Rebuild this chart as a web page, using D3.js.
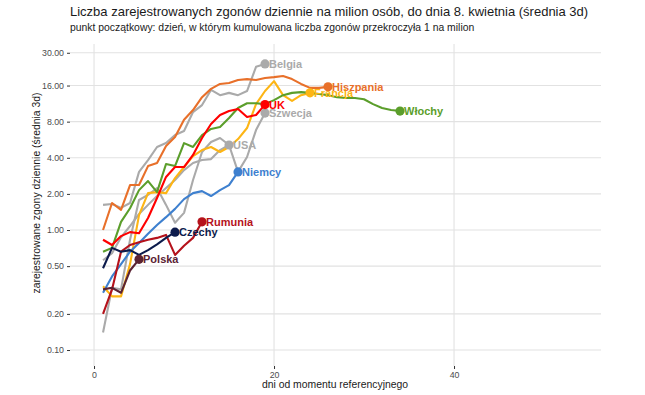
<!DOCTYPE html>
<html>
<head>
<meta charset="utf-8">
<script src="https://cdn.jsdelivr.net/npm/d3@7"></script>
<style>
  body { margin: 0; background: #fff; font-family: "Liberation Sans", Arial, sans-serif; }
</style>
</head>
<body>
<div id="main"></div>
<script>
// daily deaths per million (3-day mean), day 1 = first day above 1 death per million cumulative
const countries = ['Belgia', 'Szwecja', 'USA', 'Hiszpania', 'Francja', 'Włochy', 'UK', 'Niemcy', 'Rumunia', 'Czechy', 'Polska'];
const colors = ['#aaaaaa', '#aaaaaa', '#aaaaaa', '#e8702a', '#fdb515', '#5b9e2b', '#ff0000', '#3e80cf', '#b5121b', '#0d1b4c', '#5b2333'];

const belgia = [1.62, 1.65, 1.53, 1.68, 3.05, 3.83, 4.92, 5.31, 6.19, 6.69, 9.62, 11.0, 14.7, 13.3, 13.9, 13.3, 14.4, 22.9, 24.2];
const szwecja = [0.14, 0.33, 0.32, 0.83, 1.78, 1.96, 2.24, 1.62, 1.15, 1.39, 2.61, 4.47, 5.41, 5.85, 5.11, 3.05, 4.06, 6.81, 9.44];
const usa = [0.56, 0.64, 0.87, 1.08, 1.36, 1.62, 1.92, 2.24, 2.61, 3.16, 3.62, 3.83, 3.90, 4.64, 5.11];
const hiszpania = [1.0, 1.68, 1.47, 2.37, 2.37, 3.41, 3.62, 5.01, 5.96, 8.3, 10.0, 12.8, 15.0, 16.5, 16.8, 17.8, 18.1, 17.8, 18.5, 18.8, 19.2, 18.1, 16.5, 15.3, 15.3, 15.6];
const francja = [0.34, 0.28, 0.28, 0.52, 1.33, 2.03, 2.07, 2.03, 2.71, 3.35, 4.13, 4.64, 4.92, 4.47, 4.92, 5.73, 7.08, 11.2, 14.4, 17.4, 13.3, 11.9, 13.3, 13.9];
const wlochy = [0.66, 0.71, 1.17, 1.52, 2.15, 2.56, 2.07, 3.55, 3.41, 5.3, 4.92, 6.19, 6.95, 7.21, 8.58, 10.4, 11.4, 11.4, 11.2, 12.1, 13.3, 13.9, 14.1, 13.9, 13.6, 13.3, 12.8, 12.6, 12.6, 12.3, 11.2, 10.4, 10.0, 9.81];
const uk = [0.83, 0.75, 0.89, 0.96, 0.94, 1.26, 1.85, 2.77, 3.35, 3.35, 4.22, 5.85, 7.65, 9.09, 9.81, 10.2, 8.75, 9.09, 11.1];
const niemcy = [0.30, 0.41, 0.52, 0.66, 0.78, 0.93, 1.10, 1.28, 1.50, 1.81, 2.03, 2.11, 1.92, 2.15, 2.37, 3.05];
const rumunia = [0.20, 0.32, 0.66, 0.75, 0.79, 0.83, 0.86, 0.91, 0.62, 0.74, 0.86, 1.17];
const czechy = [0.48, 0.71, 0.66, 0.68, 0.62, 0.68, 0.76, 0.86, 0.96];
const polska = [0.32, 0.33, 0.30, 0.46, 0.57];

const seriesValues = [belgia, szwecja, usa, hiszpania, francja, wlochy, uk, niemcy, rumunia, czechy, polska];
const yTicks = [0.1, 0.2, 0.5, 1, 2, 4, 8, 16, 30];
const xTicks = [0, 20, 40];

const width = 645;
const height = 395;
const margin = { top: 44, right: 44, bottom: 29, left: 70 };

const series = countries.map((name, i) => ({
  name,
  color: colors[i],
  values: seriesValues[i].map((v, j) => ({ day: j + 1, v })),
}));

const svg = d3.select('#main')
  .append('svg')
  .attr('width', width)
  .attr('height', height);

const xScale = d3.scaleLinear()
  .domain([-2.67, 56.33])
  .range([margin.left, width - margin.right]);

const yScale = d3.scaleLog()
  .domain([0.0736, 35.5])
  .range([height - margin.bottom, margin.top]);

// grid
svg.append('g')
  .selectAll('line.hgrid')
  .data(yTicks)
  .enter()
  .append('line')
  .attr('x1', margin.left)
  .attr('x2', width - margin.right)
  .attr('y1', d => yScale(d))
  .attr('y2', d => yScale(d))
  .attr('stroke', '#e2e2e2')
  .attr('stroke-width', 1.1);

svg.append('g')
  .selectAll('line.vgrid')
  .data(xTicks)
  .enter()
  .append('line')
  .attr('x1', d => xScale(d))
  .attr('x2', d => xScale(d))
  .attr('y1', margin.top)
  .attr('y2', height - margin.bottom)
  .attr('stroke', '#e2e2e2')
  .attr('stroke-width', 1.1);

// axes
const yAxis = d3.axisLeft(yScale)
  .tickValues(yTicks)
  .tickFormat(d3.format('.2f'))
  .tickSize(3)
  .tickPadding(3);

const xAxis = d3.axisBottom(xScale)
  .tickValues(xTicks)
  .tickFormat(d3.format('d'))
  .tickSize(3)
  .tickPadding(3);

const gy = svg.append('g')
  .attr('transform', `translate(${margin.left}, 0)`)
  .call(yAxis);

const gx = svg.append('g')
  .attr('transform', `translate(0, ${height - margin.bottom})`)
  .call(xAxis);

[gx, gy].forEach((g) => {
  g.select('.domain').remove();
  g.selectAll('.tick line').attr('stroke', '#333').attr('stroke-width', 1);
  g.selectAll('.tick text')
    .attr('fill', '#4d4d4d')
    .style('font-size', '8.8px')
    .style('font-family', '"Liberation Sans", Arial, sans-serif');
});

// lines
const line = d3.line()
  .x(d => xScale(d.day))
  .y(d => yScale(d.v));

svg.append('g')
  .selectAll('path')
  .data(series)
  .enter()
  .append('path')
  .attr('d', d => line(d.values))
  .attr('fill', 'none')
  .attr('stroke', d => d.color)
  .attr('stroke-width', 2.1)
  .attr('stroke-linejoin', 'round');

const last = d => d.values[d.values.length - 1];

svg.append('g')
  .selectAll('circle')
  .data(series)
  .enter()
  .append('circle')
  .attr('cx', d => xScale(last(d).day))
  .attr('cy', d => yScale(last(d).v))
  .attr('r', 4.6)
  .attr('fill', d => d.color);

svg.append('g')
  .selectAll('text')
  .data(series)
  .enter()
  .append('text')
  .attr('x', d => xScale(last(d).day) + 4)
  .attr('y', d => yScale(last(d).v))
  .attr('dy', '0.36em')
  .attr('fill', d => d.color)
  .style('font-size', '11px')
  .style('font-weight', 'bold')
  .text(d => d.name);

// titles
svg.append('text')
  .attr('x', 70)
  .attr('y', 16)
  .attr('fill', '#1a1a1a')
  .style('font-size', '13px')
  .text('Liczba zarejestrowanych zgonów dziennie na milion osób, do dnia 8. kwietnia (średnia 3d)');

svg.append('text')
  .attr('x', 70)
  .attr('y', 31)
  .attr('fill', '#1a1a1a')
  .style('font-size', '10.4px')
  .text('punkt początkowy: dzień, w którym kumulowana liczba zgonów przekroczyła 1 na milion');

svg.append('text')
  .attr('transform', 'rotate(-90)')
  .attr('x', -193)
  .attr('y', 40)
  .attr('fill', '#1a1a1a')
  .style('font-size', '10.4px')
  .style('text-anchor', 'middle')
  .text('zarejestrowane zgony dziennie (średnia 3d)');

svg.append('text')
  .attr('x', 335)
  .attr('y', 388)
  .attr('fill', '#1a1a1a')
  .style('font-size', '10.4px')
  .style('text-anchor', 'middle')
  .text('dni od momentu referencyjnego');
</script>
</body>
</html>
